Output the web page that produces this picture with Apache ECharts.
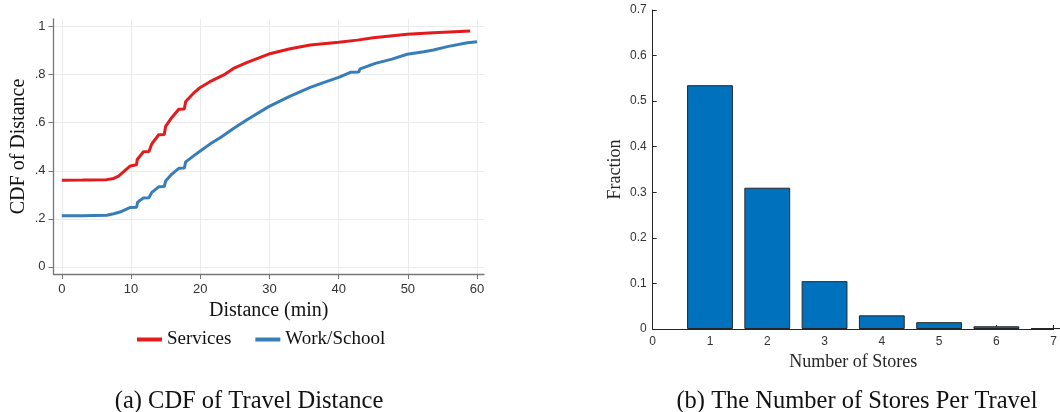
<!DOCTYPE html>
<html>
<head>
<meta charset="utf-8">
<script src="https://cdn.jsdelivr.net/npm/echarts@6/dist/echarts.min.js"></script>
<style>
  html, body { margin: 0; padding: 0; background: #fff; }
  #chart { width: 1060px; height: 412px; }
</style>
</head>
<body>
<div id="chart"></div>
<script>
// (a) CDF of travel distance, [minutes, cdf]
const servicesCdf = [
  [0, 0.36], [3, 0.361], [6.5, 0.363], [7.5, 0.368], [8.2, 0.378], [8.9, 0.395],
  [9.9, 0.42], [10.8, 0.425], [10.9, 0.447], [11.8, 0.479], [12.6, 0.48], [13, 0.512],
  [14, 0.55], [14.8, 0.551], [15, 0.585], [15.9, 0.622], [16.9, 0.656], [17.7, 0.657],
  [17.9, 0.688], [19, 0.722], [20, 0.747], [21.4, 0.771], [23.4, 0.799], [24.8, 0.826],
  [26.7, 0.85], [29.9, 0.886], [33, 0.908], [35.9, 0.924], [40, 0.935], [42.7, 0.944],
  [45, 0.954], [49.9, 0.968], [53.7, 0.975], [59, 0.982]
];
const workSchoolCdf = [
  [0, 0.2125], [3, 0.213], [6.5, 0.215], [7.5, 0.221], [8.4, 0.228], [9.9, 0.247],
  [10.8, 0.248], [10.95, 0.269], [11.8, 0.287], [12.6, 0.288], [13, 0.31], [14, 0.333],
  [14.8, 0.334], [15, 0.357], [15.9, 0.386], [16.9, 0.41], [17.7, 0.411], [17.9, 0.437],
  [19, 0.461], [20, 0.482], [21.4, 0.511], [23.1, 0.542], [24.8, 0.576], [26.7, 0.611],
  [29.9, 0.667], [33, 0.711], [35.9, 0.747], [37.8, 0.767], [40, 0.789], [41.7, 0.81],
  [42.9, 0.811], [43.1, 0.824], [45.3, 0.847], [47.7, 0.865], [49.9, 0.885], [52.3, 0.896],
  [53.7, 0.903], [55.7, 0.917], [58.6, 0.933], [60, 0.9375]
];
const distanceTicks = [0, 10, 20, 30, 40, 50, 60];
const cdfTicks = [0, 0.2, 0.4, 0.6, 0.8, 1];

// (b) number of stores per travel
const storeCounts = [1, 2, 3, 4, 5, 6, 7];
const storeFractions = [0.535, 0.31, 0.105, 0.03, 0.015, 0.006, 0.002];

const serif = "Liberation Serif";
const sans = "Liberation Sans";

const chart = echarts.init(document.getElementById("chart"));

const option = {
  animation: false,
  backgroundColor: "#fff",
  title: [
    {
      text: "(a) CDF of Travel Distance",
      left: 244, top: 384, textAlign: "center",
      textStyle: { fontFamily: serif, fontSize: 24.5, fontWeight: "normal", color: "#111" }
    },
    {
      text: "(b) The Number of Stores Per Travel",
      left: 852, top: 384, textAlign: "center",
      textStyle: { fontFamily: serif, fontSize: 24.5, fontWeight: "normal", color: "#111" }
    }
  ],
  legend: {
    left: 132, top: 325,
    icon: "rect", itemWidth: 25, itemHeight: 4, itemGap: 24,
    textStyle: { fontFamily: serif, fontSize: 19, color: "#111" },
    data: ["Services", "Work/School"]
  },
  grid: [
    { left: 53.5, right: 576, top: 19, bottom: 138 },
    { left: 652.7, right: 3.3, top: 10, bottom: 83 }
  ],
  xAxis: [
    {
      gridIndex: 0, type: "value", min: -1.2, max: 61,
      name: "Distance (min)", nameLocation: "middle", nameGap: 21,
      nameTextStyle: { fontFamily: serif, fontSize: 20, color: "#111" },
      axisLine: { onZero: false, lineStyle: { color: "#777", width: 1.3 } },
      axisTick: { show: true, length: 5, lineStyle: { color: "#777" }, customValues: distanceTicks },
      axisLabel: { customValues: distanceTicks, margin: 9, fontFamily: sans, fontSize: 13, color: "#333" },
      splitLine: { show: true, lineStyle: { color: "#ebebeb" } }
    },
    {
      gridIndex: 1, type: "value", min: 0, max: 7, interval: 1,
      name: "Number of Stores", nameLocation: "middle", nameGap: 22,
      nameTextStyle: { fontFamily: serif, fontSize: 18, color: "#262626" },
      axisLine: { onZero: false, lineStyle: { color: "#262626" } },
      axisTick: { inside: true, length: 4, lineStyle: { color: "#262626" } },
      axisLabel: { margin: 7, fontFamily: sans, fontSize: 12, color: "#333" },
      splitLine: { show: false }
    }
  ],
  yAxis: [
    {
      gridIndex: 0, type: "value", min: -0.03, max: 1.032,
      name: "CDF of Distance", nameLocation: "middle", nameGap: 25,
      nameTextStyle: { fontFamily: serif, fontSize: 20, color: "#111" },
      axisLine: { show: true, onZero: false, lineStyle: { color: "#777", width: 1.3 } },
      axisTick: { show: true, length: 5, lineStyle: { color: "#777" }, customValues: cdfTicks },
      axisLabel: {
        customValues: cdfTicks, margin: 8, fontFamily: sans, fontSize: 13, color: "#333",
        formatter: (v) => (v === 0 || v === 1 ? String(v) : String(+v.toFixed(1)).replace(/^0/, ""))
      },
      splitLine: { show: true, lineStyle: { color: "#ebebeb" } }
    },
    {
      gridIndex: 1, type: "value", min: 0, max: 0.7, interval: 0.1,
      name: "Fraction", nameLocation: "middle", nameGap: 28,
      nameTextStyle: { fontFamily: serif, fontSize: 18, color: "#262626" },
      axisLine: { show: true, onZero: false, lineStyle: { color: "#262626" } },
      axisTick: { show: true, inside: true, length: 4, lineStyle: { color: "#262626" } },
      axisLabel: { margin: 6, fontFamily: sans, fontSize: 12, color: "#333" },
      splitLine: { show: false }
    }
  ],
  series: [
    {
      name: "Services", type: "line", xAxisIndex: 0, yAxisIndex: 0,
      data: servicesCdf, symbol: "none",
      lineStyle: { color: "#e41a1c", width: 3 }, itemStyle: { color: "#e41a1c" }
    },
    {
      name: "Work/School", type: "line", xAxisIndex: 0, yAxisIndex: 0,
      data: workSchoolCdf, symbol: "none",
      lineStyle: { color: "#377eb8", width: 3 }, itemStyle: { color: "#377eb8" }
    },
    {
      name: "Fraction", type: "bar", xAxisIndex: 1, yAxisIndex: 1,
      data: storeCounts.map((c, i) => [c, storeFractions[i]]),
      barWidth: "80%",
      itemStyle: { color: "#0072bd", borderColor: "#262626", borderWidth: 1 }
    }
  ]
};

chart.setOption(option);
</script>
</body>
</html>
